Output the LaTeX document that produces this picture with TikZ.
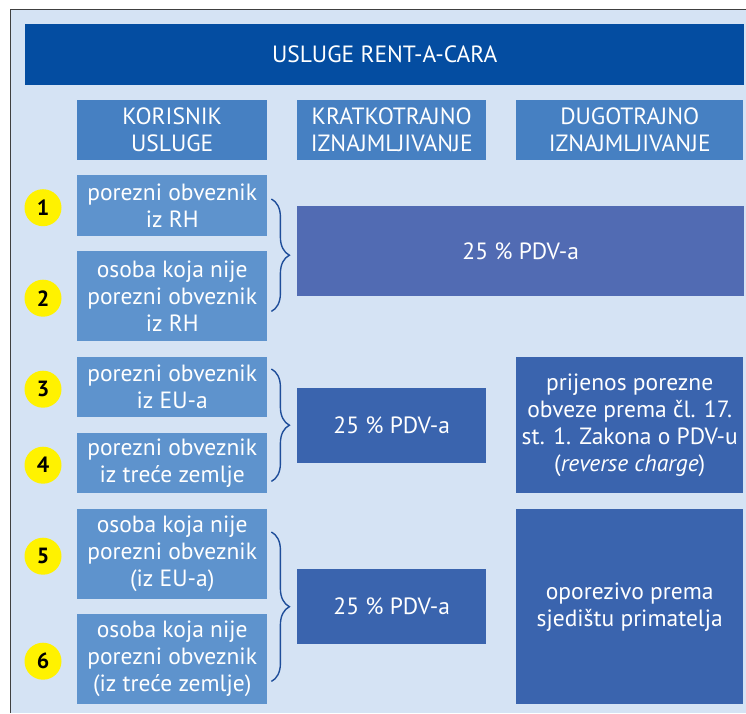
\documentclass[tikz,border=0pt]{standalone}
\usepackage{fontspec}
\setmainfont{PT Sans}
\usetikzlibrary{calc,decorations.pathreplacing}
\definecolor{pozadina}{HTML}{D5E3F4}
\definecolor{naslovplava}{HTML}{044DA1}
\definecolor{zaglavplava}{HTML}{4680C2}
\definecolor{redplava}{HTML}{5E93CD}
\definecolor{ljubicasta}{HTML}{516BB3}
\definecolor{tamnoplava}{HTML}{3A64AE}
\definecolor{zagradaplava}{HTML}{1F4E9A}
\definecolor{zuta}{HTML}{FFF200}
\begin{document}
\begin{tikzpicture}[x=1pt,y=-1pt,
    okvir/.style={anchor=north west,inner sep=0pt,align=center,text=white,
        font=\fontsize{23.5}{27}\selectfont},
    zaglavlje/.style={okvir,fill=zaglavplava,minimum height=60pt},
    red/.style={okvir,fill=redplava,minimum width=190pt},
    porez/.style={okvir,fill=tamnoplava},
    broj/.style={circle,fill=zuta,minimum size=37pt,inner sep=0pt,
        font=\bfseries\fontsize{22}{22}\selectfont},
    zagrada/.style={decorate,decoration={brace,amplitude=18pt},
        draw=zagradaplava,line width=1.4pt}]
    \useasboundingbox (0,0) rectangle (746,713);
    \fill[pozadina] (10,9) rectangle (746,713);
    \draw[black!75,line width=1pt] (10,713) -- (10,9) -- (746,9);
    % naslov i zaglavlja
    \node[okvir,fill=naslovplava,minimum width=719pt,minimum height=61pt] (naslov) at (25,24) {USLUGE RENT-A-CARA};
    \node[zaglavlje,minimum width=190pt] (korisnik) at (77,100) {KORISNIK\\USLUGE};
    \node[zaglavlje,minimum width=189pt] (kratko) at (297,100) {KRATKOTRAJNO\\IZNAJMLJIVANJE};
    \node[zaglavlje,minimum width=227pt] (dugo) at (516,100) {DUGOTRAJNO\\IZNAJMLJIVANJE};
    % korisnici
    \node[red,minimum height=61pt] (r1) at (77,175) {porezni obveznik\\iz RH};
    \node[red,minimum height=90pt] (r2) at (77,251) {osoba koja nije\\porezni obveznik\\iz RH};
    \node[red,minimum height=60pt] (r3) at (77,357) {porezni obveznik\\iz EU-a};
    \node[red,minimum height=60pt] (r4) at (77,433) {porezni obveznik\\iz treće zemlje};
    \node[red,minimum height=90pt] (r5) at (77,509) {osoba koja nije\\porezni obveznik\\(iz EU-a)};
    \node[red,minimum height=90pt] (r6) at (77,614) {osoba koja nije\\porezni obveznik\\(iz treće zemlje)};
    \foreach \i in {1,...,6}
        \node[broj] (c\i) at ($(r\i.west)+(-34,2)$) {\i};
    % oporezivanje
    \node[okvir,fill=ljubicasta,minimum width=447pt,minimum height=90pt] (pdvA) at (297,206) {25 \% PDV-a};
    \node[porez,minimum width=189pt,minimum height=75pt] (pdvB) at (297,388) {25 \% PDV-a};
    \node[porez,minimum width=189pt,minimum height=75pt] (pdvC) at (297,569) {25 \% PDV-a};
    \node[porez,minimum width=227pt,minimum height=136pt] (prijenos) at (516,357) {prijenos porezne\\obveze prema čl. 17.\\st. 1. Zakona o PDV-u\\(\textit{reverse charge})};
    \node[porez,minimum width=227pt,minimum height=195pt] (oporezivo) at (516,509) {oporezivo prema\\sjedištu primatelja};
    % zagrade
    \draw[zagrada] ($(r1.north east)+(4,24)$) -- ($(r2.south east)+(4,-30)$);
    \draw[zagrada] ($(r3.north east)+(4,12)$) -- ($(r4.south east)+(4,-12)$);
    \draw[zagrada] ($(r5.north east)+(4,23)$) -- ($(r6.south east)+(4,-23)$);
\end{tikzpicture}
\end{document}
